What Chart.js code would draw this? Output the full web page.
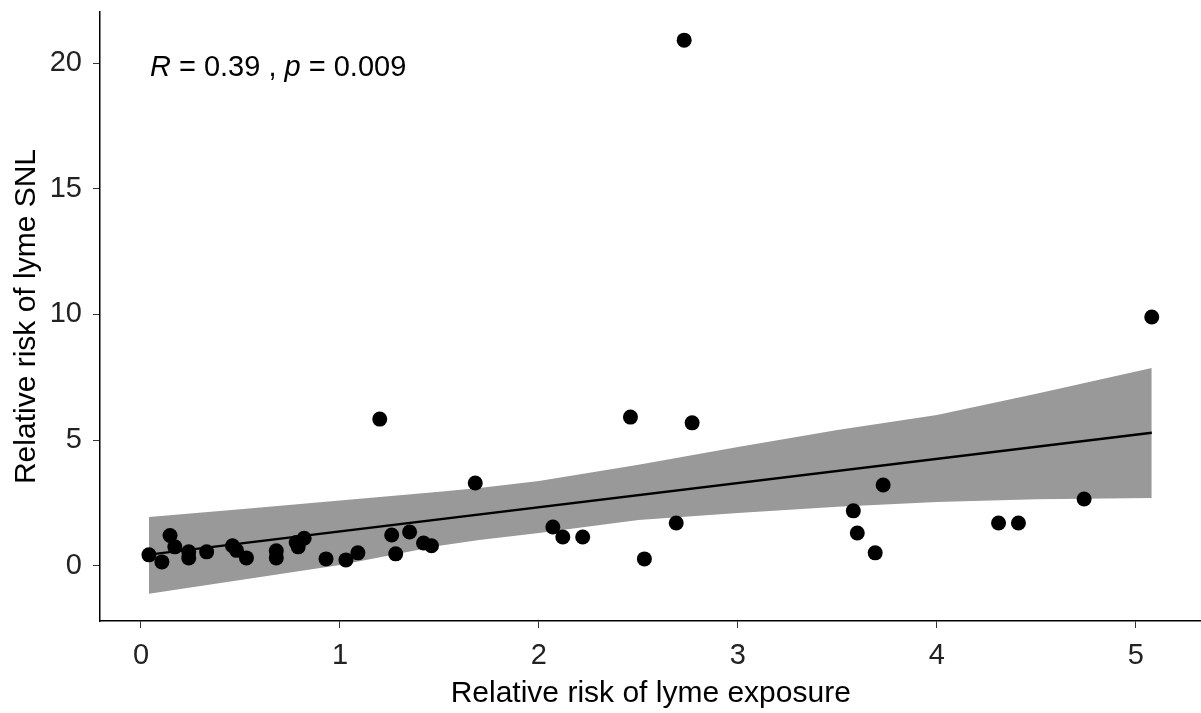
<!DOCTYPE html>
<html>
<head>
<meta charset="utf-8">
<script src="https://cdn.jsdelivr.net/npm/chart.js@4.4.1/dist/chart.umd.min.js"></script>
<style>
    html, body { margin: 0; padding: 0; background: #fff; overflow: hidden; }
    #wrap { width: 1201px; height: 713px; overflow: hidden; }
</style>
</head>
<body>
<!-- canvas is 8px wider than the view: Chart.js keeps an 8px gap on the right -->
<div id="wrap"><canvas id="corChart" width="1209" height="713"></canvas></div>
<script>
// Scatter points
const exposure = [0.04, 0.105, 0.146, 0.17, 0.24, 0.24, 0.33, 0.46, 0.48, 0.53,
    0.68, 0.68, 0.78, 0.82, 0.79, 0.93, 1.03, 1.09, 1.20, 1.26,
    1.28, 1.35, 1.42, 1.46, 1.68, 2.07, 2.12, 2.22, 2.46, 2.53,
    2.69, 2.73, 2.77, 3.58, 3.60, 3.69, 3.73, 4.31, 4.41, 4.74, 5.08];
const snl = [0.44, 0.16, 1.21, 0.76, 0.56, 0.32, 0.56, 0.80, 0.62, 0.32,
    0.60, 0.32, 0.93, 1.10, 0.76, 0.28, 0.24, 0.52, 5.84, 1.23,
    0.48, 1.35, 0.91, 0.80, 3.30, 1.55, 1.15, 1.15, 5.92, 0.28,
    1.71, 20.91, 5.69, 2.19, 1.31, 0.52, 3.22, 1.71, 1.71, 2.66, 9.90];

// Regression line and its confidence band
const fitX = [0.04, 5.08];
const fitY = [0.45, 5.30];
const bandX = [0.04, 0.5, 1.0, 1.5, 1.7, 2.0, 2.5, 3.0, 3.5, 4.0, 4.5, 5.08];
const bandUpper = [1.95, 2.25, 2.60, 2.95, 3.10, 3.38, 4.02, 4.73, 5.41, 6.00, 6.85, 7.87];
const bandLower = [-1.11, -0.56, 0.04, 0.80, 1.03, 1.31, 1.83, 2.11, 2.35, 2.54, 2.65, 2.70];

// Axes
const xTicks = [0, 1, 2, 3, 4, 5];
const yTicks = [0, 5, 10, 15, 20];
const xTitle = 'Relative risk of lyme exposure';
const yTitle = 'Relative risk of lyme SNL';
const corLabel = { r: '0.39', p: '0.009', x: 0.045, y: 19.8 };

const FONT = '"Liberation Sans", Arial, sans-serif';

function toPoints(xs, ys) {
    return xs.map((x, i) => ({ x: x, y: ys[i] }));
}

// draws "R = 0.39 , p = 0.009" with italic R and p
const corTextPlugin = {
    id: 'corText',
    afterDatasetsDraw(chart) {
        const ctx = chart.ctx;
        let px = chart.scales.x.getPixelForValue(corLabel.x);
        const py = chart.scales.y.getPixelForValue(corLabel.y);
        const parts = [
            ['italic', 'R'],
            ['normal', ' = ' + corLabel.r + ' , '],
            ['italic', 'p'],
            ['normal', ' = ' + corLabel.p]
        ];
        ctx.save();
        ctx.fillStyle = '#000';
        ctx.textBaseline = 'middle';
        ctx.textAlign = 'left';
        parts.forEach(([style, txt]) => {
            ctx.font = style + ' 29px ' + FONT;
            ctx.fillText(txt, px, py);
            px += ctx.measureText(txt).width;
        });
        ctx.restore();
    }
};

const gridCommon = {
    display: true,
    drawOnChartArea: false,
    drawTicks: true,
    tickLength: 7,
    color: '#333',
    lineWidth: 1
};
const borderCommon = { display: true, color: '#000', width: 1.5 };

new Chart(document.getElementById('corChart'), {
    type: 'scatter',
    data: {
        datasets: [
            {
                label: 'points',
                data: toPoints(exposure, snl),
                backgroundColor: '#000',
                borderWidth: 0,
                pointRadius: 7.5,
                pointHoverRadius: 7.5
            },
            {
                type: 'line',
                label: 'fit',
                data: toPoints(fitX, fitY),
                borderColor: '#000',
                borderWidth: 2.5,
                pointRadius: 0,
                fill: false
            },
            {
                type: 'line',
                label: 'lower',
                data: toPoints(bandX, bandLower),
                borderWidth: 0,
                borderColor: 'rgba(0,0,0,0)',
                pointRadius: 0,
                fill: false
            },
            {
                type: 'line',
                label: 'upper',
                data: toPoints(bandX, bandUpper),
                borderWidth: 0,
                borderColor: 'rgba(0,0,0,0)',
                backgroundColor: '#999999',
                pointRadius: 0,
                fill: '-1'
            }
        ]
    },
    options: {
        responsive: false,
        animation: false,
        devicePixelRatio: 1,
        layout: { padding: { top: 12, right: 0, left: 0, bottom: 0 } },
        plugins: {
            legend: { display: false },
            tooltip: { enabled: false }
        },
        scales: {
            x: {
                type: 'linear',
                min: -0.206,
                max: 5.33,
                grid: gridCommon,
                border: borderCommon,
                ticks: { color: '#222', font: { family: FONT, size: 29 }, padding: 11 },
                afterBuildTicks: (s) => { s.ticks = xTicks.map(v => ({ value: v })); },
                afterFit: (s) => {
                    s.height = 92;
                    s.paddingLeft = 0;
                    s.paddingRight = 0;
                },
                title: {
                    display: true,
                    text: xTitle,
                    color: '#000',
                    font: { family: FONT, size: 30 },
                    padding: { top: 0, bottom: 1 }
                }
            },
            y: {
                type: 'linear',
                min: -2.19,
                max: 22.03,
                grid: gridCommon,
                border: borderCommon,
                ticks: { color: '#222', font: { family: FONT, size: 29 }, padding: 11 },
                afterBuildTicks: (s) => { s.ticks = yTicks.map(v => ({ value: v })); },
                afterFit: (s) => {
                    s.width = 100;
                    s.paddingTop = 0;
                    s.paddingBottom = 0;
                },
                title: {
                    display: true,
                    text: yTitle,
                    color: '#000',
                    font: { family: FONT, size: 30 },
                    padding: { top: 9, bottom: 0 }
                }
            }
        }
    },
    plugins: [corTextPlugin]
});
</script>
</body>
</html>
